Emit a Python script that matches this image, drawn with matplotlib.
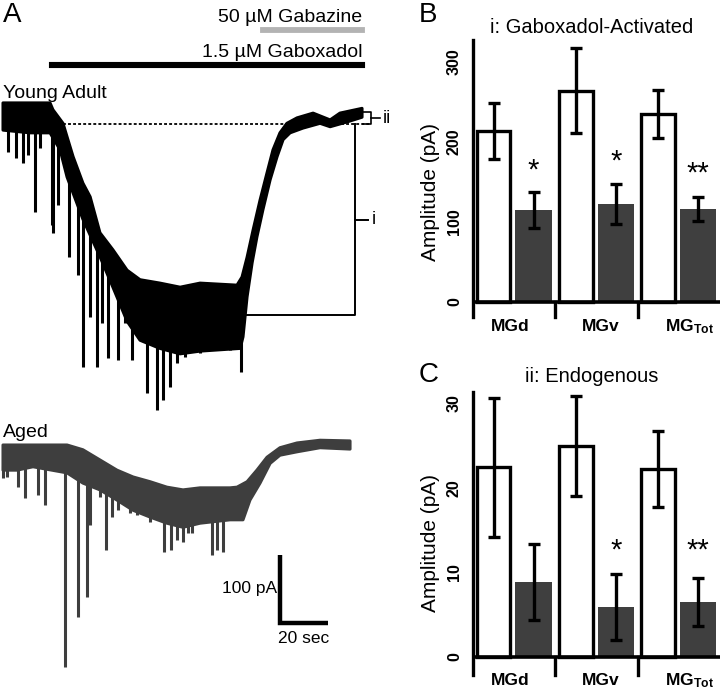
import numpy as np
import matplotlib
matplotlib.use("Agg")
import matplotlib.pyplot as plt

plt.rcParams['font.family'] = ['Liberation Sans', 'DejaVu Sans']
plt.rcParams['mathtext.fontset'] = 'custom'
plt.rcParams['mathtext.rm'] = 'Liberation Sans'
plt.rcParams['mathtext.bf'] = 'Liberation Sans:bold'
plt.rcParams['mathtext.it'] = 'Liberation Sans:italic'

# ---------------- data ----------------
# Young adult trace: envelope (time s, current pA relative to baseline)
young_top_t = [0, 19.6, 20.8, 25.0, 26.7, 29.2, 33.3, 36.3, 40.4, 45.8, 51.7, 57.1, 65.4, 73.8,
               82.1, 97.5, 99.6, 101.7, 104.2, 107.1, 110.0, 112.5, 115.4, 118.3, 122.5, 129.2,
               136.3, 140.4, 149.6]
young_top_i = [31, 31, 21, 1, -19, -48, -87, -107, -160, -185, -215, -229, -234, -240,
               -234, -237, -225, -196, -156, -112, -72, -38, -13, 1, 9, 16,
               6, 16, 23]
young_bot_t = [0, 11.3, 19.6, 23.8, 26.7, 33.3, 40.4, 45.8, 51.7, 57.1, 65.4, 73.8, 82.1, 98.8,
               100.0, 101.7, 103.8, 105.8, 108.3, 111.3, 114.2, 116.7, 119.6, 125.0, 132.1,
               136.3, 143.3, 149.6]
young_bot_i = [-9, -13, -13, -38, -78, -140, -195, -240, -290, -318, -330, -338, -334, -330,
               -313, -254, -204, -166, -126, -82, -48, -23, -13, -6, 1,
               -4, 3, 10]
young_spike_t = [2.1, 5.4, 8.3, 10.4, 13.3, 15.4, 20.4, 20.8, 22.9, 27.5, 31.3, 33.3, 36.3, 39.2,
                 41.3, 43.8, 47.9, 50.8, 53.8, 60.0, 64.2, 66.7, 69.6, 72.5, 75.8, 79.2, 82.1,
                 94.6, 99.2]
young_spike_i = [-41, -50, -57, -46, -129, -35, -149, -160, -119, -196, -222, -357, -284, -357,
                 -293, -344, -347, -293, -347, -396, -421, -406, -387, -351, -343, -328, -337,
                 -332, -365]

# Aged trace
aged_top_t = [0, 26.7, 33.3, 40.4, 47.5, 54.2, 61.3, 68.3, 75.0, 82.1, 94.6, 97.5, 101.7, 105.8,
              110.0, 115.4, 122.5, 132.1, 144.6]
aged_top_i = [0, 0, -7, -22, -37, -47, -54, -62, -66, -63, -63, -62, -54, -37,
              -18, -4, 3, 7, 6]
aged_bot_t = [0, 5.8, 12.5, 26.7, 33.3, 40.4, 47.5, 54.2, 61.3, 68.3, 75.0, 82.1, 94.6, 100.0,
              102.9, 107.1, 111.3, 115.4, 122.5, 132.1, 144.6]
aged_bot_i = [-37, -37, -32, -41, -56, -66, -81, -96, -106, -115, -121, -115, -110, -110,
              -81, -56, -27, -15, -10, -4, -6]
aged_spike_t = [0.2, 1.7, 6.3, 9.2, 14.6, 17.5, 25.8, 31.3, 35.0, 36.3, 40.4, 42.9, 45.4, 47.9,
                52.9, 55.8, 61.3, 67.1, 70.0, 72.5, 75.0, 77.1, 78.8, 87.1, 89.2, 91.7]
aged_spike_i = [-48, -47, -62, -78, -74, -88, -326, -253, -224, -118, -76, -154, -106, -96,
                -100, -103, -113, -157, -154, -140, -143, -129, -129, -162, -154, -157]

i_level = -281     # gaboxadol-activated amplitude marker (pA)
ii_level = 17.6    # endogenous amplitude marker (pA)

# Bar charts
categories = ['MGd', 'MGv', r'MG$_{\mathbf{Tot}}$']
b_young = [214, 264, 235]
b_young_err = [35, 53, 30]
b_aged = [115, 122, 116]
b_aged_err = [23, 25, 15]
b_stars = ['*', '*', '**']

c_young = [22.4, 24.9, 22.2]
c_young_err = [8.2, 5.9, 4.5]
c_aged = [8.9, 5.9, 6.5]
c_aged_err = [4.5, 3.9, 2.8]
c_stars = ['', '*', '**']

# ---------------- figure ----------------
W, H = 720, 690
fig = plt.figure(figsize=(W / 100, H / 100), dpi=100)


def fx(x):
    return x / W


def fy(y):
    return 1 - y / H


# ---------- Panel A ----------
axA = fig.add_axes([0, 0, 410 / W, 1])
axA.set_axis_off()
px_per_s = 2.4
px_per_pA = 0.68
axA.set_xlim(-3 / px_per_s, 407 / px_per_s)
axA.set_ylim(-(H - 124) / px_per_pA, 124 / px_per_pA)
aged_off = -(445 - 124) / px_per_pA


def draw_trace(top_t, top_i, bot_t, bot_i, sp_t, sp_i, off, color):
    xs = list(top_t) + list(bot_t[::-1])
    ys = [v + off for v in top_i] + [v + off for v in bot_i[::-1]]
    axA.fill(xs, ys, color=color, lw=2.2, ec=color, joinstyle='round')
    start = np.interp(sp_t, bot_t, bot_i) + 6
    axA.vlines(sp_t, np.array(sp_i) + off, start + off, color=color, lw=2.2)


draw_trace(young_top_t, young_top_i, young_bot_t, young_bot_i,
           young_spike_t, young_spike_i, 0, 'black')
draw_trace(aged_top_t, aged_top_i, aged_bot_t, aged_bot_i,
           aged_spike_t, aged_spike_i, aged_off, '#3e3e3e')

# baseline dotted line and brackets
axA.plot([25.0, 153.3], [0, 0], color='black', lw=1.3, ls=(0, (1.6, 1.2)))
axA.plot([150.0, 153.3, 153.3, 150.0], [ii_level, ii_level, 0, 0], color='black', lw=1.2)
axA.plot([153.3, 157.1], [ii_level / 2, ii_level / 2], color='black', lw=1.2)
axA.plot([146.7, 146.7, 100.8], [0, i_level, i_level], color='black', lw=1.4)
axA.plot([146.7, 152.1], [i_level / 2, i_level / 2], color='black', lw=1.4)
axA.text(158.3, ii_level / 2, 'ii', fontsize=13, va='center', ha='left')
axA.text(153.5, i_level / 2, 'i', fontsize=13, va='center', ha='left')

# scale bar
sb_t, sb_i = 115.4, -733.8
axA.plot([sb_t, sb_t, sb_t + 20], [sb_i + 100, sb_i, sb_i], color='black', lw=3.2,
         solid_joinstyle='miter', solid_capstyle='butt')
axA.text(sb_t - 1.3, sb_i + 100 - 56, '100 pA', fontsize=12.5, ha='right', va='baseline')
axA.text(sb_t + 9.8, sb_i - 29, '20 sec', fontsize=12.5, ha='center', va='baseline')

# drug application bars
fig.add_artist(plt.Line2D([fx(263), fx(362)], [fy(29.5), fy(29.5)], color='#b3b3b3', lw=4.2))
fig.add_artist(plt.Line2D([fx(52), fx(362)], [fy(65), fy(65)], color='black', lw=4.4))
fig.text(fx(362), fy(21.5), '50 µM Gabazine', fontsize=14, ha='right', va='baseline')
fig.text(fx(362), fy(57), '1.5 µM Gaboxadol', fontsize=14, ha='right', va='baseline')
fig.text(fx(3), fy(98), 'Young Adult', fontsize=14, ha='left', va='baseline')
fig.text(fx(3), fy(437), 'Aged', fontsize=14, ha='left', va='baseline')
fig.text(fx(3), fy(22), 'A', fontsize=20, ha='left', va='baseline')


# ---------- Panels B & C ----------
def bar_panel(top_px, zero_px, bot_px, ymax, ticks, young, yerr, aged, aerr, stars,
              star_y, title, title_base, letter, letter_base, ylab_y, cat_base):
    left_px, right_px = 473, 720
    ax = fig.add_axes([fx(left_px), fy(bot_px), (right_px - left_px) / W, (bot_px - top_px) / H])
    ppu = (zero_px - top_px) / ymax
    ymin = -(bot_px - zero_px) / ppu
    ax.set_ylim(ymin, ymax)
    ax.set_xlim(0, 3)
    for s in ['top', 'right', 'bottom']:
        ax.spines[s].set_visible(False)
    ax.spines['left'].set_linewidth(2.4)
    ax.set_xticks([])
    ax.set_yticks(ticks)
    ax.set_yticklabels([str(t) for t in ticks], rotation=90, va='center',
                       fontweight='bold', fontsize=11.5)
    ax.tick_params(axis='y', length=0, pad=8)
    xw = np.arange(3) + 0.25
    xa = np.arange(3) + 0.735
    ax.bar(xw, young, width=0.41, color='white', edgecolor='black', linewidth=2.4, zorder=2)
    ax.bar(xa, aged, width=0.44, color='#3f3f3f', linewidth=0, zorder=2)
    ax.errorbar(xw, young, yerr=yerr, fmt='none', ecolor='black', elinewidth=2.4,
                capsize=4, capthick=2.4, zorder=3)
    ax.errorbar(xa, aged, yerr=aerr, fmt='none', ecolor='black', elinewidth=2.4,
                capsize=4, capthick=2.4, zorder=3)
    ax.plot([0, 3], [0, 0], color='black', lw=2.6, clip_on=False, zorder=4,
            solid_capstyle='butt')
    for g in [1, 2]:
        ax.plot([g, g], [ymin, 0], color='black', lw=2.4, clip_on=False, zorder=4)
    for x, s, yv in zip(xa, stars, star_y):
        if s:
            ax.text(x, yv, s, fontsize=21, ha='center', va='baseline')
    for x, c in zip([0.45, 1.55, 2.63], categories):
        fig.text(fx(left_px + x * (right_px - left_px) / 3), fy(cat_base), c, fontsize=12.5,
                 fontweight='bold', ha='center', va='baseline')
    fig.text(fx(592), fy(title_base), title, fontsize=14.5, ha='center', va='baseline')
    fig.text(fx(419), fy(letter_base), letter, fontsize=20, ha='left', va='baseline')
    fig.text(fx(431), fy(ylab_y), 'Amplitude (pA)', fontsize=15, rotation=90,
             ha='center', va='center')
    return ax


bar_panel(40, 302, 317, 327.5, [0, 100, 200, 300], b_young, b_young_err, b_aged, b_aged_err,
          b_stars, [154, 166, 151], 'i: Gaboxadol-Activated', 33, 'B', 22, 192, 331)
bar_panel(392, 657, 675, 31.3, [0, 10, 20, 30], c_young, c_young_err, c_aged, c_aged_err,
          c_stars, [11.6, 11.6, 11.6], 'ii: Endogenous', 382, 'C', 382, 543, 685)

fig.savefig('out.png', dpi=100)
